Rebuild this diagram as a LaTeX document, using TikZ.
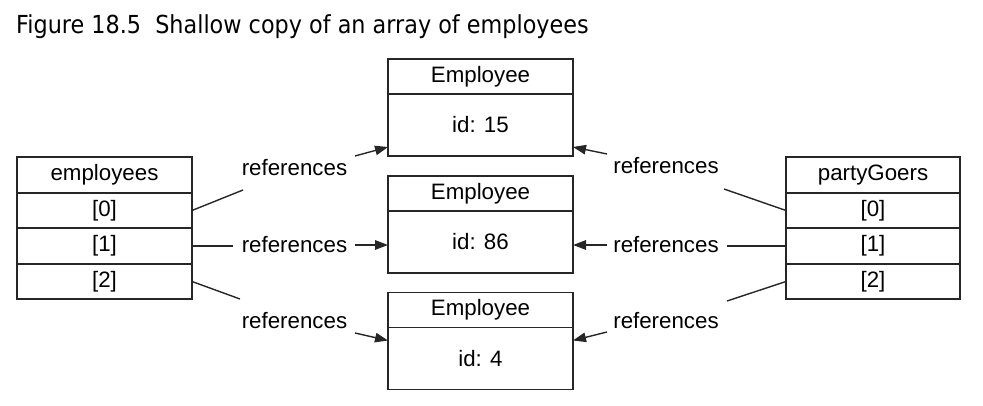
\documentclass[tikz,border=0pt]{standalone}
\usepackage{fontspec}
\setmainfont{Liberation Sans}
\newfontfamily\titlefont{DejaVu Sans}[FakeStretch=0.9]
\usetikzlibrary{positioning}
\usetikzlibrary{arrows.meta}

\definecolor{linegray}{HTML}{262626}

\begin{document}
\begin{tikzpicture}[x=1pt, y=-1pt, font=\fontsize{22.3}{26}\selectfont,
	cell/.style={draw=linegray, line width=1.7pt, outer sep=0pt, inner sep=0pt, minimum height=35.5pt},
	link/.style={draw=linegray, line width=1.4pt},
	refarrow/.style={link, -{Triangle[length=13pt,width=9.5pt]}},
	reflabel/.style={anchor=base, inner sep=0pt}]
	\useasboundingbox (0,0) rectangle (983,406);
	
	% draw title
	\node[anchor=base west, inner sep=0pt, font=\titlefont\fontsize{24.8}{28}\selectfont] (title) at (16,34) {Figure 18.5\ \ Shallow copy of an array of employees};
	
	% draw the two arrays
	\node[cell, minimum width=175pt] (emps) at (104.5,175) {employees};
	\node[cell, minimum width=174pt] (goers) at (873,175) {partyGoers};
	\foreach \i/\y in {0/210.5, 1/246, 2/281.5} {
		\node[cell, minimum width=175pt] (emps\i) at (104.5,\y) {[\i]};
		\node[cell, minimum width=174pt] (goers\i) at (873,\y) {[\i]};
	}
	
	% draw employee objects
	\foreach \n/\y in {15/76.5, 86/193.5, 4/310} {
		\node[cell, minimum width=185pt, minimum height=35pt] (head\n) at (480.5,\y) {Employee};
		\node[cell, minimum width=185pt, minimum height=62pt, below=0pt of head\n] (emp\n) {id: \n};
	}
	
	% draw labels
	\foreach \i/\yl/\yr in {0/176/174, 1/253/253, 2/328/328} {
		\node[reflabel] (refL\i) at (294.5,\yl) {references};
		\node[reflabel] (refR\i) at (666,\yr) {references};
	}
	
	% free ends of the connectors
	\coordinate (inL0) at (243,190);
	\coordinate (inL1) at (233,246);
	\coordinate (inL2) at (240,299);
	\coordinate (outL0) at (355,156);
	\coordinate (outL1) at (355,245);
	\coordinate (outL2) at (355,333);
	\coordinate (inR0) at (724,189);
	\coordinate (inR1) at (727,246);
	\coordinate (inR2) at (727,301);
	\coordinate (outR0) at (607,154);
	\coordinate (outR1) at (607,245);
	\coordinate (outR2) at (607,332);
	
	% draw connectors
	\foreach \i in {0,1,2} {
		\draw[link] (emps\i.east) -- (inL\i);
		\draw[link] (goers\i.west) -- (inR\i);
	}
	\draw[refarrow] (outL0) -- ([shift={(0,-9)}]emp15.south west);
	\draw[refarrow] (outL1) -- ([shift={(0,3)}]emp86.west);
	\draw[refarrow] (outL2) -- ([shift={(0,13)}]emp4.north west);
	\draw[refarrow] (outR0) -- ([shift={(0,-9)}]emp15.south east);
	\draw[refarrow] (outR1) -- ([shift={(0,3)}]emp86.east);
	\draw[refarrow] (outR2) -- ([shift={(0,13)}]emp4.north east);
\end{tikzpicture}
\end{document}
